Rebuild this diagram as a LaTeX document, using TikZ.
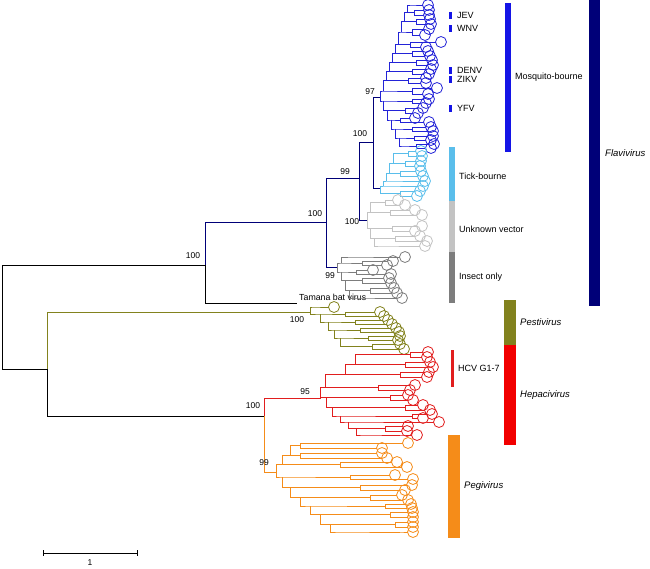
\documentclass[tikz,border=0pt]{standalone}
\usepackage{fontspec}
\setmainfont{Liberation Sans}
\usepackage{tikz}
\usetikzlibrary{positioning}

\definecolor{flavnavy}{RGB}{0,0,120}
\definecolor{mosqblue}{RGB}{35,35,215}
\definecolor{mosqbar}{RGB}{20,20,230}
\definecolor{tickblue}{RGB}{90,190,235}
\definecolor{unkgray}{RGB}{195,195,195}
\definecolor{insgray}{RGB}{125,125,125}
\definecolor{pestolive}{RGB}{130,130,30}
\definecolor{hepred}{RGB}{225,30,30}
\definecolor{pegorange}{RGB}{245,140,25}

% one staircase of cherries hanging from (#2,#3): sx/cx/ya/ta/yb/tb
\newcommand{\clade}[4]{%
  \xdef\lastx{#2}\xdef\lasty{#3}%
  \foreach \sx/\cx/\ya/\ta/\yb/\tb in {#4}{%
    \pgfmathsetmacro\ym{(\ya+\yb)/2}%
    \draw[branch, #1] (\lastx,\lasty) |- (\sx,\ym) -- (\cx,\ym);
    \draw[branch, #1] (\ta-5.5,\ya) -| (\cx,\yb) -- (\tb-5.5,\yb);
    \draw[leafcirc, #1] (\ta,\ya) circle[radius=5.5pt] (\tb,\yb) circle[radius=5.5pt];
    \xdef\lastx{\sx}\xdef\lasty{\ym}%
  }%
}

\begin{document}
\begin{tikzpicture}[x=1pt, y=-1pt,
    branch/.style={line width=0.85pt},
    leafcirc/.style={line width=0.8pt},
    boot/.style={inner sep=0pt, font=\fontsize{8.5}{10}\selectfont},
    cladename/.style={anchor=west, inner sep=0pt, font=\fontsize{9}{10}\selectfont}]

    \useasboundingbox (0,0) rectangle (650,569);

    % backbone
    \coordinate (root) at (2,369);
    \coordinate (nflavi) at (205,265);
    \coordinate (nrest) at (47,369);
    \coordinate (ntamana) at (297,303);
    \coordinate (nA) at (326,222);
    \coordinate (nB) at (359,178);
    \coordinate (nC) at (373,142);
    \coordinate (nmos) at (380,97);
    \coordinate (ntick) at (380,188);
    \coordinate (nunk) at (367,220);
    \coordinate (nins) at (337,267);
    \coordinate (npesti) at (310,312);
    \coordinate (nH) at (264,416);
    \coordinate (nhep) at (320,398);
    \coordinate (npeg) at (276,472);

    \draw[branch] (root) |- (nflavi);
    \draw[branch] (root) -- (nrest);
    \draw[branch] (nflavi) |- (ntamana);
    \draw[branch, flavnavy] (nflavi) |- (nA);
    \draw[branch, flavnavy] (nA) |- (nB);
    \draw[branch, flavnavy] (nA) |- (nins);
    \draw[branch, flavnavy] (nB) |- (nC);
    \draw[branch, flavnavy] (nB) |- (nunk);
    \draw[branch, flavnavy] (nC) |- (nmos);
    \draw[branch, flavnavy] (nC) |- (ntick);
    \draw[branch, pestolive] (nrest) |- (npesti);
    \draw[branch] (nrest) |- (nH);
    \draw[branch, hepred] (nH) |- (nhep);
    \draw[branch, pegorange] (nH) |- (npeg);

    \node[cladename, font=\fontsize{8.8}{10}\selectfont] (tamana) at (299,297) {Tamana bat virus};

    % clades
    \clade{mosqblue}{380}{97}{383/412/94/428/88/437, 386/408/83/426/78/426,
        389/412/74/429/69/431, 392/416/65/433/60/432, 395/412/56/430/51/428,
        398/410/47/426/42/441, 401/412/35/425/29/429, 404/416/24/431/19/430,
        407/414/15/429/10/429, 410/410/5/428/5/428}
    \clade{mosqblue}{380}{97}{383/412/99/429/103/426, 387/405/108/423/113/418,
        391/400/118/415/122/429, 395/412/127/431/131/433, 399/414/136/433/140/431,
        403/416/144/434/148/431}
    \clade{tickblue}{380}{188}{383/383/186/423/186/423, 386/386/181/425/181/425,
        389/400/176/423/171/421, 393/405/166/420/161/421, 397/408/156/422/151/421}
    \clade{tickblue}{380}{188}{383/400/191/420/196/417}
    \clade{unkgray}{367}{220}{370/390/215/422/210/415, 374/385/205/405/200/398}
    \clade{unkgray}{367}{220}{370/392/226/422/231/415, 374/395/236/420/241/427,
        378/378/246/425/246/425}
    \clade{insgray}{337}{267}{341/362/265/387/261/393, 348/348/257/405/257/405}
    \clade{insgray}{337}{267}{341/356/270/373/274/391, 345/362/278/389/283/391,
        349/370/288/394/293/397, 353/353/298/402/298/402}
    \clade{pestolive}{310}{312}{312/312/307/334/307/334}
    \clade{pestolive}{310}{312}{320/345/312/380/316/384, 328/355/320/388/324/392,
        334/360/328/396/332/399, 340/368/336/400/340/398, 346/372/344/400/349/404}
    \clade{hepred}{320}{398}{325/378/390/410/385/415, 345/400/377/427/372/429,
        355/405/367/433/362/430, 365/410/357/427/352/428}
    \clade{hepred}{320}{398}{326/390/395/408/400/413, 332/405/405/423/410/430,
        340/412/414/432/418/423, 348/420/422/439/422/439, 356/385/426/408/431/407,
        364/400/435/417/435/417}
    \clade{pegorange}{276}{472}{282/340/467/407/462/397, 290/300/458/387/453/382,
        298/300/448/382/443/408}
    \clade{pegorange}{276}{472}{282/350/475/395/479/413, 290/360/485/412/490/405,
        300/370/495/402/500/408, 310/385/504/411/508/412, 320/390/512/413/517/413,
        330/395/522/413/527/413, 340/400/532/413/532/413}

    % bootstrap values
    \node[boot] (bflavi) at (193,256) {100};
    \node[boot] (bA) at (315,214) {100};
    \node[boot] (bB) at (345,172) {99};
    \node[boot] (bC) at (360,134) {100};
    \node[boot] (bmos) at (370,92) {97};
    \node[boot] (bunk) at (352,222) {100};
    \node[boot] (bins) at (330,276) {99};
    \node[boot] (bpesti) at (297,320) {100};
    \node[boot] (bhep) at (305,392) {95};
    \node[boot] (bH) at (253,406) {100};
    \node[boot] (bpeg) at (264,463) {99};

    % virus bars
    \foreach \ya/\yb/\txt in {12/19/JEV, 25/32/WNV, 67/74/DENV, 76/83/ZIKV, 105/112/YFV}{
        \fill[mosqbar] (449,\ya) rectangle (452,\yb);
        \node[cladename] at (457,{(\ya+\yb)/2}) {\txt};
    }
    \fill[hepred] (451,350) rectangle (454,387);
    \node[cladename] (hcv) at (458,368) {HCV G1-7};

    % vector bars
    \fill[mosqbar] (505,3) rectangle (511,152);
    \node[cladename] (mosq) at (515,77) {Mosquito-bourne};
    \fill[tickblue] (449,147) rectangle (455,201);
    \node[cladename] (tick) at (459,176) {Tick-bourne};
    \fill[unkgray] (449,201) rectangle (455,252);
    \node[cladename] (unk) at (459,229) {Unknown vector};
    \fill[insgray] (449,252) rectangle (455,303);
    \node[cladename] (ins) at (459,277) {Insect only};

    % genus bars
    \fill[flavnavy] (589,0) rectangle (600,306);
    \node[cladename, font=\fontsize{9.5}{11}\selectfont\itshape] (flavivirus) at (605,153) {Flavivirus};
    \fill[pestolive] (504,300) rectangle (516,345);
    \node[cladename, font=\fontsize{9.5}{11}\selectfont\itshape] (pestivirus) at (520,322) {Pestivirus};
    \fill[red!95!black] (504,345) rectangle (516,445);
    \node[cladename, font=\fontsize{9.5}{11}\selectfont\itshape] (hepacivirus) at (520,395) {Hepacivirus};
    \fill[pegorange] (448,435) rectangle (460,538);
    \node[cladename, font=\fontsize{9.5}{11}\selectfont\itshape] (pegivirus) at (464,486) {Pegivirus};

    % scale bar
    \coordinate (sbl) at (43,553);
    \coordinate (sbr) at (137,553);
    \draw[branch] (sbl) -- (sbr);
    \draw[branch] ([yshift=3pt]sbl) -- ([yshift=-3pt]sbl);
    \draw[branch] ([yshift=3pt]sbr) -- ([yshift=-3pt]sbr);
    \node[boot] (sblabel) at (90,563) {1};

\end{tikzpicture}
\end{document}
